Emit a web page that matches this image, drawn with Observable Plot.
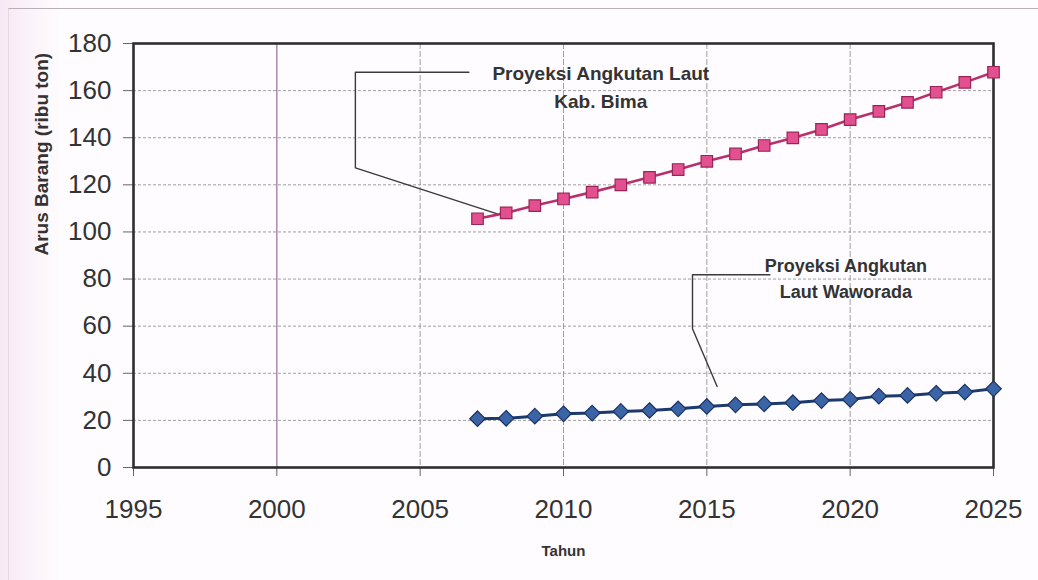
<!DOCTYPE html>
<html>
<head>
<meta charset="utf-8">
<script src="https://cdn.jsdelivr.net/npm/d3@7"></script>
<script src="https://cdn.jsdelivr.net/npm/@observablehq/plot@0.6"></script>
<style>
  html, body { margin: 0; padding: 0; background: #fcf7fb; }
  #chart { position: relative; width: 1038px; height: 580px; overflow: hidden;
    background: linear-gradient(to right, #f6e8f4 0px, #fbf3fa 30px, #fefcfe 60px); }
  #frameline { position: absolute; left: 8px; top: 8px; right: 0; bottom: 0;
    border-top: 1.5px solid #b8b0b6; border-left: 1px solid #e4d8e2; }
  #chart svg { position: absolute; left: 0; top: 0; }
</style>
</head>
<body>
<div id="chart"><div id="frameline"></div></div>
<script>
const years = [2007, 2008, 2009, 2010, 2011, 2012, 2013, 2014, 2015, 2016, 2017, 2018, 2019, 2020, 2021, 2022, 2023, 2024, 2025];
const bima = [105.6, 108.1, 111.2, 114.0, 116.9, 120.0, 123.2, 126.5, 130.0, 133.1, 136.7, 139.9, 143.5, 147.7, 151.2, 155.0, 159.3, 163.5, 167.8];
const waworada = [20.7, 20.9, 21.8, 22.8, 23.1, 23.8, 24.2, 24.9, 25.9, 26.6, 27.0, 27.5, 28.4, 28.9, 30.3, 30.6, 31.5, 32.0, 33.4];
const xTicks = [1995, 2000, 2005, 2010, 2015, 2020, 2025];
const yTicks = [0, 20, 40, 60, 80, 100, 120, 140, 160, 180];
const labelBima = "Proyeksi Angkutan Laut\nKab. Bima";
const labelWaworada = "Proyeksi Angkutan\nLaut Waworada";
// callout leader lines (data units)
const calloutBimaX = [2006.7, 2002.74, 2002.74, 2007.69];
const calloutBimaY = [167.8, 167.8, 127.2, 107.7];
const calloutWawX = [2017.2, 2014.5, 2014.5, 2015.36];
const calloutWawY = [81.8, 81.8, 58.9, 34.4];
const labelBimaPos = [2011.3, 162.4];
const labelWawPos = [2019.85, 81.0];

const bimaData = years.map((y, i) => ({year: y, value: bima[i]}));
const wawData = years.map((y, i) => ({year: y, value: waworada[i]}));
const cBima = calloutBimaX.map((x, i) => ({x, y: calloutBimaY[i]}));
const cWaw = calloutWawX.map((x, i) => ({x, y: calloutWawY[i]}));

const chart = Plot.plot({
  width: 1038,
  height: 580,
  marginLeft: 133,
  marginRight: 45,
  marginTop: 43,
  marginBottom: 113,
  style: { fontFamily: "'Liberation Sans', Arial, sans-serif", background: "transparent", color: "#333" },
  x: { domain: [1995, 2025], ticks: xTicks, tickFormat: d => String(d), label: null },
  y: { domain: [0, 180], ticks: yTicks, label: null },
  marks: [
    Plot.ruleY([20, 40, 60, 80, 100, 120, 140, 160], { stroke: "#8a8a8a", strokeWidth: 1, strokeDasharray: "3,2", strokeOpacity: 0.8 }),
    Plot.ruleX([2005, 2010, 2015, 2020], { stroke: "#8a8a8a", strokeWidth: 1, strokeDasharray: "6,2", strokeOpacity: 0.8 }),
    Plot.ruleX([2000], { stroke: "#9a6a9a", strokeWidth: 1.2 }),
    Plot.axisX({ ticks: xTicks, tickFormat: d => String(d), tickSize: 9, tickPadding: 23, fontSize: 26, stroke: "#666", label: null }),
    Plot.axisY({ ticks: yTicks, tickSize: 10, tickPadding: 12, fontSize: 26, stroke: "#666", label: null }),
    Plot.frame({ stroke: "#2e2e2e", strokeWidth: 2.6 }),
    Plot.line(cBima, { x: "x", y: "y", stroke: "#3a3a3a", strokeWidth: 1.4 }),
    Plot.line(cWaw, { x: "x", y: "y", stroke: "#3a3a3a", strokeWidth: 1.4 }),
    Plot.line(bimaData, { x: "year", y: "value", stroke: "#b8306c", strokeWidth: 2.6 }),
    Plot.dot(bimaData, { x: "year", y: "value", symbol: "square", r: 6.5, fill: "#e2508f", stroke: "#9a2458", strokeWidth: 1.2 }),
    Plot.line(wawData, { x: "year", y: "value", stroke: "#1c3a6e", strokeWidth: 3 }),
    Plot.dot(wawData, { x: "year", y: "value", symbol: "diamond2", r: 7, fill: "#3b64a6", stroke: "#1a3262", strokeWidth: 1.2 }),
    Plot.text([labelBimaPos], { x: d => d[0], y: d => d[1], text: () => labelBima, fontSize: 19, fontWeight: "bold", fill: "#333", lineHeight: 1.45, textAnchor: "middle" }),
    Plot.text([labelWawPos], { x: d => d[0], y: d => d[1], text: () => labelWaworada, fontSize: 18, fontWeight: "bold", fill: "#333", lineHeight: 1.45, textAnchor: "middle" }),
    Plot.text(["Arus Barang (ribu ton)"], { frameAnchor: "left", dx: -92, rotate: -90, fontSize: 19, fontWeight: "bold", fill: "#333" }),
    Plot.text(["Tahun"], { frameAnchor: "bottom", dy: 88, fontSize: 15, fontWeight: "bold", fill: "#333" })
  ]
});
document.getElementById("chart").appendChild(chart);
</script>
</body>
</html>
